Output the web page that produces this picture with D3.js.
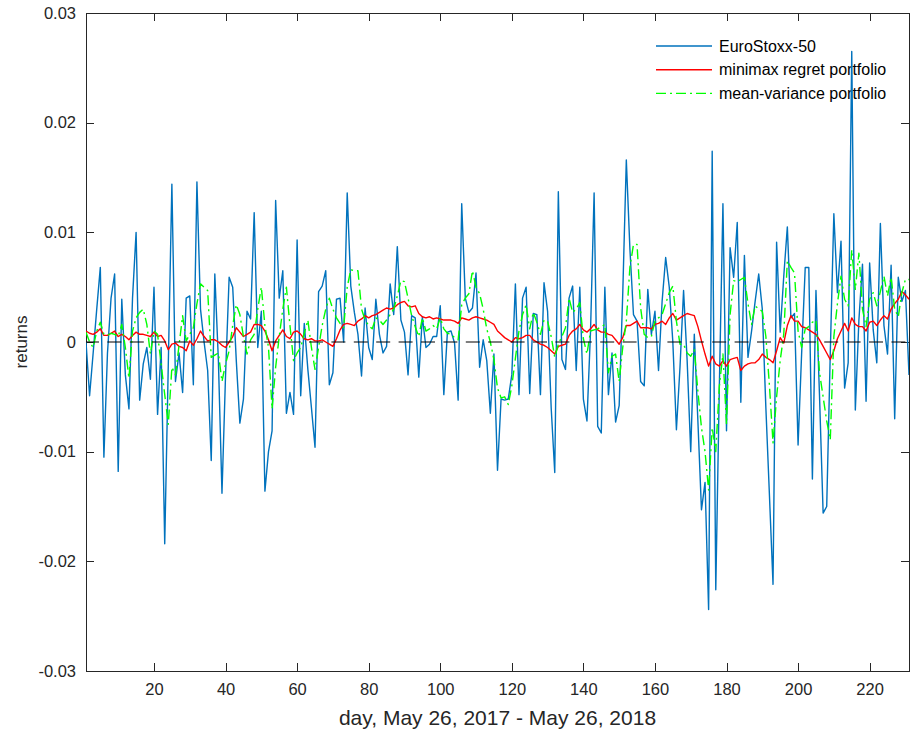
<!DOCTYPE html>
<html lang="en">
<head>
<meta charset="utf-8">
<title>EuroStoxx-50 and portfolio returns</title>
<script src="https://cdn.jsdelivr.net/npm/d3@7"></script>
<style>
  body { margin: 0; background: #fff; }
  svg { display: block; font-family: "Liberation Sans", Arial, Helvetica, sans-serif; }
</style>
</head>
<body>
<div id="chart"></div>
<script>
// daily returns, day 1 .. 231
var euroStoxx = [
  0.0, -0.0049, -0.001, 0.003, 0.0068, -0.0105, -0.001, 0.004, 0.0062, -0.0118,
  0.0039, -0.003, -0.0061, 0.004, 0.01, -0.0053, -0.002, -0.0005, -0.0034, 0.005,
  -0.0066, -0.0005, -0.0184, -0.002, 0.0144, -0.0036, -0.001, -0.0046, 0.004, 0.0042,
  -0.0039, 0.0146, 0.003, 0.0, -0.0026, -0.0108, 0.0062, -0.0017, -0.0138, -0.003,
  0.0059, 0.005, -0.0017, -0.0074, -0.0052, 0.0028, 0.0021, 0.0118, -0.0005, 0.0028,
  -0.0136, -0.01, -0.0081, 0.0129, 0.004, 0.0065, -0.0065, -0.0046, -0.0066, 0.0093,
  -0.0049, 0.0017, -0.0025, -0.006, -0.0096, 0.0046, 0.0051, 0.0065, -0.0039, -0.0028,
  0.0039, 0.004, 0.0, 0.0136, 0.0051, 0.0027, 0.0007, -0.0031, 0.0031, -0.0005,
  -0.0016, 0.0039, 0.0007, -0.001, -0.0004, 0.0053, 0.0025, 0.0087, 0.002, 0.0009,
  -0.003, 0.0024, 0.0022, -0.0032, 0.0023, -0.0005, -0.0002, 0.0005, 0.0005, 0.0033,
  -0.0048, 0.0009, 0.001, -0.0001, -0.0053, 0.0126, 0.004, 0.0027, 0.0031, 0.0063,
  -0.0023, 0.0002, -0.0017, -0.0065, -0.0011, -0.0117, -0.0052, -0.0053, -0.0052, -0.003,
  0.0053, -0.0048, 0.004, 0.005, -0.0047, 0.0026, 0.0025, -0.0048, 0.0054, 0.0028,
  -0.006, -0.0119, 0.0137, -0.0016, -0.0025, 0.004, 0.0051, -0.0026, 0.005, -0.0052,
  -0.0072, 0.001, 0.0136, -0.0077, -0.0083, 0.005, -0.0048, -0.001, -0.0073, -0.0058,
  0.0044, 0.0166, 0.0085, 0.0025, 0.0019, -0.0036, -0.004, 0.0048, 0.0007, 0.0028,
  -0.0026, 0.0037, 0.0077, 0.005, 0.0, -0.008, -0.0023, 0.0047, -0.0017, -0.01,
  0.0007, -0.0072, -0.0153, -0.0128, -0.0244, 0.0174, -0.0226, -0.004, 0.0126, -0.0081,
  0.0086, 0.0059, 0.0109, -0.0055, 0.0079, -0.0014, 0.001, 0.0037, 0.0062, 0.003,
  -0.006, -0.014, -0.0221, 0.0091, 0.0009, 0.006, 0.0105, 0.0022, 0.0026, -0.0094,
  -0.001, 0.0068, 0.0068, -0.0125, 0.0047, -0.005, -0.0156, -0.015, -0.001, 0.0117,
  0.0045, 0.0092, -0.0042, -0.0019, 0.0265, -0.0062, 0.002, 0.0071, -0.0054, 0.0072,
  0.0011, -0.0019, 0.0108, 0.0015, -0.0011, 0.007, -0.007, 0.0059, 0.0037, 0.0047,
  -0.003
];

var minimax = [
  0.0010, 0.0008, 0.0007, 0.0009, 0.0012, 0.0006, 0.0006, 0.0008, 0.0010, 0.0005,
  0.0007, 0.0005, 0.0002, 0.0006, 0.0009, 0.0007, 0.0007, 0.0006, 0.0005, 0.0009,
  0.0005, 0.0006, 0.0001, -0.0007, -0.0002, -0.0001, -0.0004, -0.0005, -0.0008, 0.0001,
  -0.0003, 0.0003, 0.0010, 0.0005, 0.0001, 0.0002, 0.0002, 0.0000, -0.0003, -0.0005,
  0.0000, 0.0005, 0.0013, 0.0009, 0.0005, 0.0007, 0.0009, 0.0016, 0.0016, 0.0015,
  0.0010, 0.0002, -0.0008, 0.0001, 0.0006, 0.0011, 0.0005, 0.0003, 0.0009, 0.0010,
  0.0007, 0.0003, 0.0002, 0.0003, 0.0001, 0.0001, 0.0002, 0.0000, -0.0002, -0.0004,
  0.0003, 0.0011, 0.0016, 0.0017, 0.0016, 0.0015, 0.0019, 0.0021, 0.0024, 0.0022,
  0.0024, 0.0025, 0.0027, 0.0029, 0.0031, 0.0030, 0.0031, 0.0034, 0.0036, 0.0037,
  0.0033, 0.0032, 0.0033, 0.0026, 0.0023, 0.0022, 0.0023, 0.0021, 0.0022, 0.0021,
  0.0020, 0.0020, 0.0020, 0.0019, 0.0017, 0.0022, 0.0021, 0.0020, 0.0022, 0.0023,
  0.0022, 0.0021, 0.0020, 0.0018, 0.0016, 0.0010, 0.0007, 0.0004, 0.0002, 0.0000,
  0.0004, 0.0003, 0.0004, 0.0006, 0.0006, 0.0002, 0.0000, -0.0002, -0.0003, -0.0005,
  -0.0008, -0.0011, -0.0004, -0.0003, -0.0002, 0.0006, 0.0010, 0.0012, 0.0016, 0.0011,
  0.0009, 0.0012, 0.0016, 0.0011, 0.0009, 0.0009, 0.0007, 0.0006, 0.0002, -0.0002,
  0.0004, 0.0015, 0.0015, 0.0017, 0.0019, 0.0013, 0.0013, 0.0013, 0.0012, 0.0016,
  0.0017, 0.0019, 0.0016, 0.0022, 0.0026, 0.0020, 0.0022, 0.0024, 0.0026, 0.0025,
  0.0024, 0.0014, 0.0001, -0.0011, -0.0022, -0.0013, -0.0020, -0.0022, -0.0017, -0.0022,
  -0.0016, -0.0015, -0.0014, -0.0026, -0.0022, -0.0020, -0.0019, -0.0019, -0.0016, -0.0011,
  -0.0014, -0.0016, -0.0019, -0.0008, 0.0004, -0.0001, 0.0015, 0.0024, 0.0019, 0.0019,
  0.0014, 0.0013, 0.0011, 0.0009, 0.0007, 0.0002, -0.0004, -0.0010, -0.0016, -0.0008,
  0.0003, 0.0010, 0.0017, 0.0010, 0.0022, 0.0016, 0.0014, 0.0014, 0.0010, 0.0018,
  0.0019, 0.0015, 0.0020, 0.0024, 0.0021, 0.0030, 0.0035, 0.0039, 0.0046, 0.0043,
  0.0039
];

var meanVariance = [
  0.0009, 0.0000, -0.0005, 0.0010, 0.0018, 0.0007, 0.0006, 0.0008, 0.0007, 0.0005,
  0.0016, -0.0005, -0.0033, 0.0010, 0.0022, 0.0027, 0.0030, 0.0016, -0.0011, 0.0010,
  0.0007, -0.0020, -0.0048, -0.0075, -0.0023, -0.0030, -0.0003, 0.0024, 0.0001, 0.0007,
  0.0013, 0.0035, 0.0053, 0.0050, 0.0047, -0.0014, -0.0012, -0.0010, -0.0036, -0.0020,
  -0.0008, 0.0015, 0.0034, 0.0025, 0.0005, -0.0011, 0.0002, 0.0007, 0.0030, 0.0050,
  0.0015, -0.0005, -0.0061, -0.0023, 0.0005, 0.0030, 0.0050, 0.0015, -0.0017, -0.0010,
  -0.0005, 0.0008, 0.0020, -0.0005, -0.0025, -0.0005, 0.0015, 0.0030, 0.0040, 0.0030,
  0.0022, 0.0017, 0.0013, 0.0050, 0.0066, 0.0065, 0.0065, 0.0030, 0.0020, 0.0015,
  0.0012, 0.0022, 0.0020, 0.0016, 0.0020, 0.0025, 0.0030, 0.0042, 0.0056, 0.0055,
  0.0040, 0.0024, 0.0014, 0.0005, 0.0022, 0.0010, 0.0012, 0.0015, 0.0012, 0.0022,
  0.0012, 0.0008, 0.0007, 0.0004, 0.0002, 0.0034, 0.0040, 0.0044, 0.0065, 0.0050,
  0.0044, 0.0030, 0.0012, 0.0000, -0.0016, -0.0042, -0.0051, -0.0050, -0.0057, -0.0040,
  -0.0015, 0.0010, 0.0025, 0.0034, 0.0012, 0.0027, 0.0018, 0.0007, 0.0020, 0.0019,
  0.0005, -0.0014, -0.0002, 0.0005, 0.0013, 0.0040, 0.0027, 0.0030, 0.0036, 0.0003,
  -0.0011, 0.0010, 0.0011, 0.0012, 0.0014, 0.0016, -0.0028, -0.0013, -0.0011, -0.0036,
  -0.0005, 0.0019, 0.0068, 0.0089, 0.0089, 0.0031, 0.0007, 0.0004, 0.0005, 0.0019,
  0.0022, 0.0025, 0.0035, 0.0045, 0.0051, 0.0019, -0.0002, -0.0002, -0.0010, -0.0013,
  -0.0007, -0.0045, -0.0078, -0.0100, -0.0135, -0.0078, -0.0100, -0.0040, -0.0011, -0.0075,
  0.0025, 0.0056, 0.0055, 0.0057, 0.0059, 0.0035, 0.0016, 0.0033, 0.0030, 0.0028,
  0.0005, -0.0040, -0.0092, -0.0050, -0.0017, 0.0007, 0.0074, 0.0068, 0.0063, 0.0010,
  -0.0005, 0.0012, 0.0014, 0.0018, 0.0020, -0.0028, -0.0050, -0.0072, -0.0089, 0.0005,
  0.0035, 0.0060, 0.0039, 0.0033, 0.0084, 0.0048, 0.0081, 0.0030, 0.0014, 0.0039,
  0.0045, 0.0033, 0.0046, 0.0060, 0.0042, 0.0059, 0.0030, 0.0023, 0.0045, 0.0057,
  0.0057
];

var seriesNames = ["EuroStoxx-50", "minimax regret portfolio", "mean-variance portfolio"];
var xTicks = [20, 40, 60, 80, 100, 120, 140, 160, 180, 200, 220];
var yTicks = [-0.03, -0.02, -0.01, 0, 0.01, 0.02, 0.03];
var xLabel = "day, May 26, 2017 - May 26, 2018";
var yLabel = "returns";

var width = 910, height = 740;
var plotLeft = 86, plotRight = 909, plotTop = 13, plotBottom = 671;
var axisColor = "#262626";

var days = d3.range(1, euroStoxx.length + 1);

var x = d3.scaleLinear().domain([1, 231]).range([plotLeft, plotRight]);
var y = d3.scaleLinear().domain([-0.03, 0.03]).range([plotBottom, plotTop]);

var svg = d3.select("#chart").append("svg")
  .attr("width", width).attr("height", height);

svg.append("defs").append("clipPath").attr("id", "plotclip")
  .append("rect")
  .attr("x", plotLeft).attr("y", plotTop)
  .attr("width", plotRight - plotLeft).attr("height", plotBottom - plotTop);

var yFormat = function (d) { return d === 0 ? "0" : d.toFixed(2); };

// axes, ticks pointing inward on all four sides
function styleAxis(g) {
  g.selectAll("path.domain").attr("stroke", axisColor).attr("stroke-width", 1);
  g.selectAll(".tick line").attr("stroke", axisColor).attr("stroke-width", 1);
  g.selectAll(".tick text").attr("fill", axisColor).style("font-size", "16.5px");
  g.attr("shape-rendering", "crispEdges");
}

svg.append("g").attr("transform", "translate(0," + plotBottom + ")")
  .call(d3.axisBottom(x).tickValues(xTicks).tickSize(-8).tickSizeOuter(0).tickPadding(12))
  .call(styleAxis);
svg.append("g").attr("transform", "translate(0," + plotTop + ")")
  .call(d3.axisTop(x).tickValues(xTicks).tickSize(-8).tickSizeOuter(0).tickFormat(""))
  .call(styleAxis);
svg.append("g").attr("transform", "translate(" + plotLeft + ",0)")
  .call(d3.axisLeft(y).tickValues(yTicks).tickSize(-8).tickSizeOuter(0).tickPadding(10).tickFormat(yFormat))
  .call(styleAxis);
svg.append("g").attr("transform", "translate(" + plotRight + ",0)")
  .call(d3.axisRight(y).tickValues(yTicks).tickSize(-8).tickSizeOuter(0).tickFormat(""))
  .call(styleAxis);

svg.selectAll(".domain").attr("fill", "none");

// legend (no box), drawn under the lines
var legendStyles = [
  { color: "#0072BD", dash: null, width: 1.4 },
  { color: "#FF0000", dash: null, width: 1.4 },
  { color: "#00FF00", dash: "10,4,2,4", width: 1.4 }
];
var legend = svg.append("g");
seriesNames.forEach(function (name, i) {
  var ly = 46 + i * 23.7;
  legend.append("line")
    .attr("x1", 656).attr("x2", 712).attr("y1", ly).attr("y2", ly)
    .attr("stroke", legendStyles[i].color)
    .attr("stroke-width", legendStyles[i].width)
    .attr("stroke-dasharray", legendStyles[i].dash);
  legend.append("text")
    .attr("x", 719).attr("y", ly).attr("dy", "0.35em")
    .style("font-size", "16px").attr("fill", "#000")
    .text(name);
});

var line = d3.line()
  .x(function (d, i) { return x(days[i]); })
  .y(function (d) { return y(d); });

var plot = svg.append("g").attr("clip-path", "url(#plotclip)");

[euroStoxx, minimax, meanVariance].forEach(function (series, i) {
  plot.append("path")
    .datum(series)
    .attr("fill", "none")
    .attr("stroke", legendStyles[i].color)
    .attr("stroke-width", legendStyles[i].width)
    .attr("stroke-dasharray", legendStyles[i].dash)
    .attr("stroke-linejoin", "round")
    .attr("d", line);
});

// zero reference line
plot.append("line")
  .attr("x1", x(1) - 1).attr("x2", x(231))
  .attr("y1", y(0)).attr("y2", y(0))
  .attr("stroke", "#000").attr("stroke-width", 1.2)
  .attr("stroke-dasharray", "14,8.4");

// axis labels
svg.append("text")
  .attr("x", (plotLeft + plotRight) / 2).attr("y", 725)
  .attr("text-anchor", "middle")
  .style("font-size", "21px").attr("fill", axisColor)
  .text(xLabel);

svg.append("text")
  .attr("transform", "translate(27," + ((plotTop + plotBottom) / 2) + ") rotate(-90)")
  .attr("text-anchor", "middle")
  .style("font-size", "17px").attr("fill", axisColor)
  .text(yLabel);
</script>
</body>
</html>
